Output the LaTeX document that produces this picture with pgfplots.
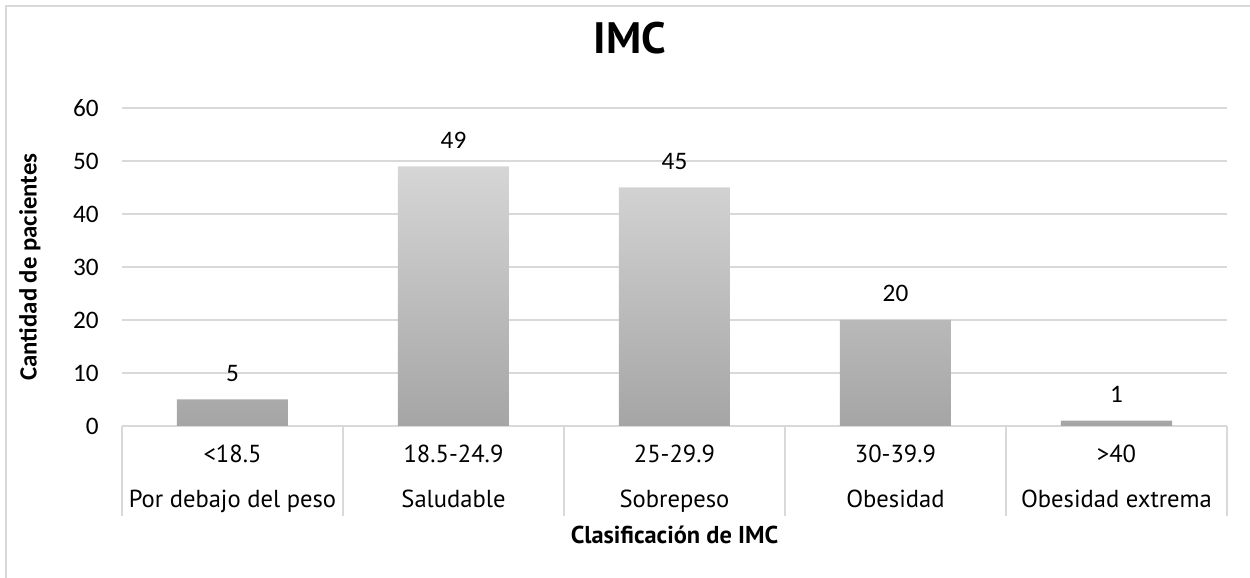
\documentclass[border=0pt]{standalone}
\usepackage{pgfplots}
\pgfplotsset{compat=1.18}
\usepackage{fontspec}
\setmainfont{PT Sans}
\newfontfamily\numfont{Carlito}
\definecolor{gridgray}{HTML}{D9D9D9}
\definecolor{bartop}{HTML}{D6D6D6}
\definecolor{barbot}{HTML}{A5A5A5}

\begin{document}
\begin{tikzpicture}
% page frame
\useasboundingbox (-61pt,-76pt) rectangle (564pt,213pt);
\draw[gridgray, line width=0.8pt] (-58pt,-80pt) -- (-58pt,210pt) -- (570pt,210pt);
\begin{axis}[
  at={(0pt,0pt)}, anchor=south west,
  scale only axis,
  width=552.5pt, height=159pt,
  /pgf/number format/assume math mode=true,
  ybar, bar width=55.5pt,
  xmin=-0.5, xmax=4.5,
  ymin=0, ymax=60,
  ytick={0,10,...,60},
  xtick={0,1,2,3,4},
  xticklabels={{<18.5\\Por debajo del peso},{18.5-24.9\\Saludable},{25-29.9\\Sobrepeso},{30-39.9\\Obesidad},{>40\\Obesidad extrema}},
  xticklabel style={anchor=base, yshift=-41pt, align=center, font=\fontsize{12.3}{22.5}\selectfont},
  yticklabel style={anchor=east, inner sep=0pt, xshift=-11.5pt, font=\numfont\fontsize{12.6}{14}\selectfont},
  major tick length=0pt,
  tick pos=left,
  extra x ticks={-0.5,0.5,1.5,2.5,3.5,4.5},
  extra x tick labels={},
  extra x tick style={major tick length=45pt, tick align=outside, tick style={draw=gridgray, line width=0.6pt}},
  axis line style={draw=none},
  ymajorgrids,
  grid style={draw=gridgray, line width=0.6pt},
  title={IMC},
  title style={at={(axis description cs:0.4597,1.1352)}, anchor=base, font=\bfseries\fontsize{22}{26}\selectfont},
  xlabel={Clasificación de IMC},
  xlabel style={at={(axis description cs:0.5,-0.368)}, anchor=base, font=\bfseries\fontsize{12.2}{14}\selectfont},
  ylabel={Cantidad de pacientes},
  ylabel style={at={(axis description cs:-0.0833,0.5)}, anchor=center, rotate=0, font=\numfont\bfseries\fontsize{12.4}{14}\selectfont},
  nodes near coords,
  every node near coord/.append style={anchor=base, yshift=9pt, font=\numfont\fontsize{12.6}{14}\selectfont, text=black},
]
\addplot[draw=none, top color=bartop, bottom color=barbot] coordinates {(0,5) (1,49) (2,45) (3,20) (4,1)};
\end{axis}
\end{tikzpicture}
\end{document}
